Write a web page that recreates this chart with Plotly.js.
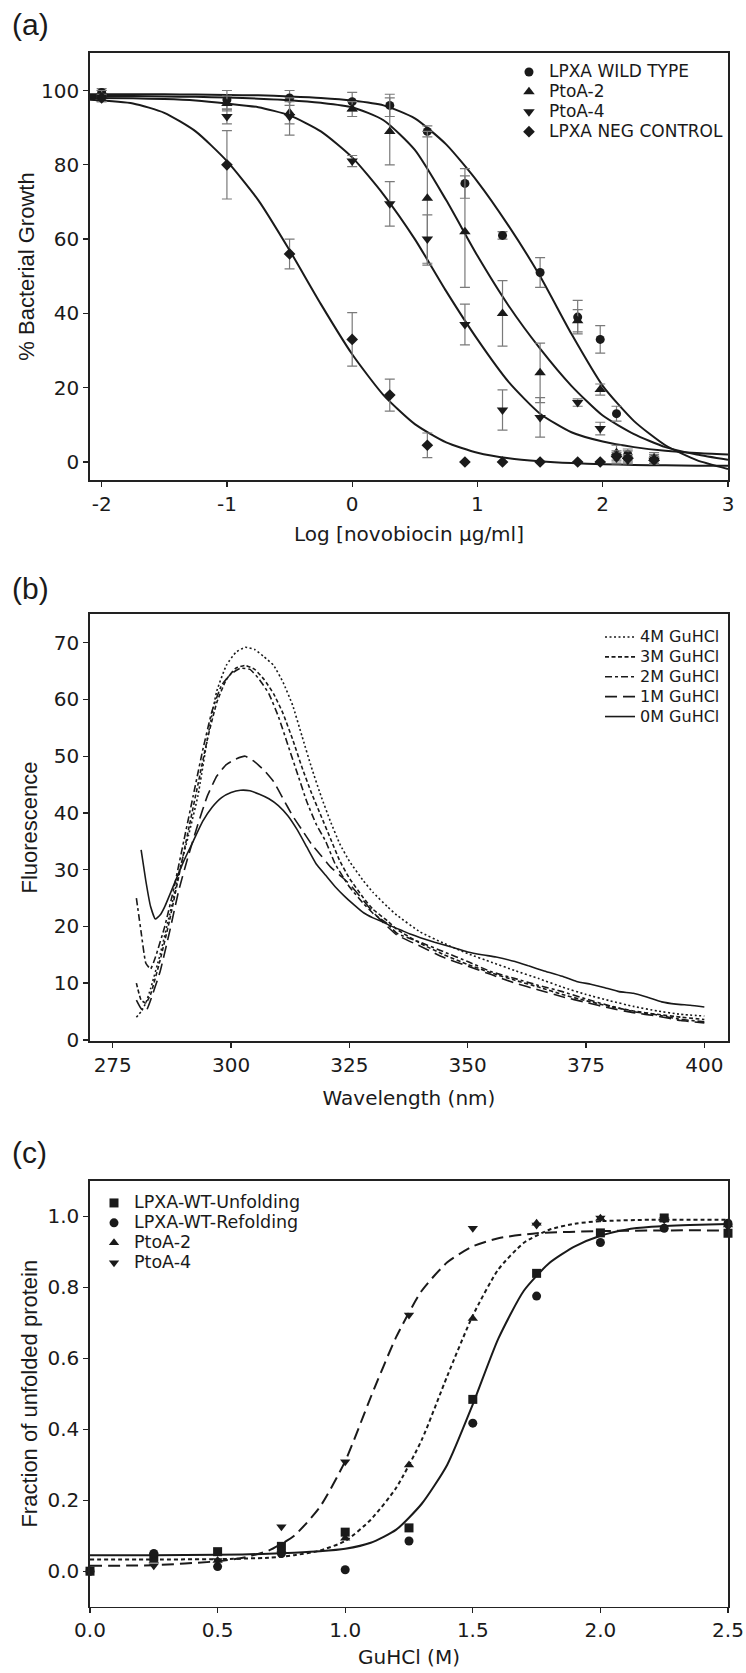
<!DOCTYPE html>
<html>
<head>
<meta charset="utf-8">
<script src="https://cdn.plot.ly/plotly-3.0.1.min.js"></script>
<style>html,body{margin:0;padding:0;background:#fff;}#chart{width:746px;height:1673px;}</style>
</head>
<body>
<div id="chart"></div>
<script>
// ---------- Panel (a): novobiocin dose response ----------
const doseLog = [-2, -1, -0.5, 0, 0.3, 0.6, 0.9, 1.2, 1.5, 1.8, 1.98, 2.11, 2.2, 2.41];
const doseTickVals = [-2, -1, 0, 1, 2, 3];
const doseTickText = ['-2', '-1', '0', '1', '2', '3'];
const wtGrowth = [99.5, 97.5, 98, 97, 96, 89, 75, 61, 51, 39, 33, 13, 2, 1];
const wtErr    = [1, 2.5, 2, 2.5, 3, 1.5, 4, 1, 4, 4.5, 3.7, 2, 1.5, 1.5];
const p2Growth = [99, 96.5, 94, 95, 89, 71, 62, 40, 24, 38, 19.5, 2.5, 1.5, 1];
const p2Err    = [1, 2, 3, 2, 9, 18, 15, 8.8, 8, 3, 1.5, 2, 1.5, 1];
const p4Growth = [98.5, 93, 93, 81, 69.5, 60, 37, 14, 12, 16, 9, 1, 0.5, 0.5];
const p4Err    = [1.5, 2, 5, 1.5, 6, 6.5, 5.5, 5.4, 5.3, 1, 1.7, 1.5, 1, 1];
const negGrowth = [98, 80, 56, 33, 18, 4.5, 0, 0, 0, 0, 0, 1.5, 1, 0.5];
const negErr    = [1, 9.2, 4, 7.2, 4.3, 3.3, 0, 0, 0, 0, 0, 1.5, 1, 1];

const fitLog = [-2.1, -1.75, -1.5, -1.25, -1, -0.75, -0.5, -0.25, 0, 0.25, 0.5, 0.75, 1.0, 1.25, 1.5, 1.75, 2.0, 2.25, 2.5, 2.75, 3.0];
const wtFit  = [99, 99, 99, 98.9, 98.8, 98.7, 98.4, 98, 97.3, 96, 92.5, 85.5, 75.5, 63.5, 50, 34.5, 20.5, 11, 4.5, 0.5, -1.9];
const p2Fit  = [98.5, 98.5, 98.4, 98.3, 98.1, 97.8, 97.4, 96.7, 95.5, 92, 84, 70.5, 55.5, 42, 30.5, 20.5, 12.5, 7.5, 4, 2, 0.6];
const p4Fit  = [98, 97.9, 97.7, 97.3, 96.5, 95.5, 93.3, 89, 82, 72, 60, 46, 33, 21.5, 13, 8, 5.5, 4, 3, 2.4, 2];
const negFit = [97.5, 96.5, 94, 89, 81, 70.5, 57, 42.5, 29, 18, 10.2, 5.3, 2.5, 1, 0.2, -0.3, -0.6, -0.8, -0.9, -1, -1];

// ---------- Panel (b): fluorescence spectra ----------
const wl4M = [280, 281, 282, 283, 285, 287, 289, 291, 293, 295, 297, 299, 301, 303, 305, 307, 309, 311, 313, 315, 317, 319, 321, 323, 325, 328, 330, 333, 335, 340, 345, 350, 355, 360, 365, 370, 375, 380, 385, 390, 395, 400];
const fl4M = [4, 5, 6.5, 9, 15, 22, 29.5, 36, 43, 53, 61.5, 66, 68.3, 69.2, 68.8, 67.5, 66, 63, 59, 53.5, 48, 43, 38.5, 34.5, 31.5, 28, 26, 23.5, 22, 19, 17, 15.2, 13.7, 12.2, 10.8, 9.3, 8, 6.9, 5.9, 5.1, 4.5, 4.2];
const wl3M = [280, 281, 282, 283, 285, 287, 289, 291, 293, 295, 297, 299, 301, 303, 305, 307, 309, 311, 313, 315, 317, 319, 321, 323, 325, 328, 330, 333, 335, 340, 345, 350, 355, 360, 365, 370, 375, 380, 385, 390, 395, 400];
const fl3M = [10, 7, 6.5, 8, 14, 21, 29, 37, 45, 53, 59.5, 63.5, 65.5, 66, 65.3, 63.5, 61, 57.5, 53, 48, 43.5, 39.5, 35.5, 31.5, 28.5, 25, 23, 21, 19.5, 17, 15, 13.3, 11.8, 10.5, 9.3, 8, 6.9, 5.9, 5.1, 4.5, 4, 3.6];
const wl2M = [280, 281, 282, 283, 284, 286, 288, 290, 292, 294, 296, 298, 300, 302, 304, 306, 308, 310, 312, 314, 316, 318, 320, 322, 325, 328, 330, 333, 335, 340, 345, 350, 355, 360, 365, 370, 375, 380, 385, 390, 395, 400];
const fl2M = [25, 19, 13.5, 12.5, 14.5, 20, 27, 35, 43, 51, 58, 62.5, 64.5, 65.5, 65.3, 63.5, 61, 57, 52, 47, 42, 38, 35, 31, 27, 24, 22.3, 20.5, 18.8, 17.2, 15.5, 13.8, 12, 10.8, 9.6, 8.5, 7.2, 6, 5, 4.4, 3.6, 3.2];
const wl1M = [280, 281, 282, 283, 285, 287, 289, 291, 293, 295, 297, 299, 301, 303, 305, 307, 309, 311, 313, 315, 317, 319, 321, 323, 325, 328, 330, 333, 335, 340, 345, 350, 355, 360, 365, 370, 375, 380, 385, 390, 395, 400];
const fl1M = [7, 5.5, 5, 7, 12, 19, 26.5, 32.5, 38, 43, 46.5, 48.5, 49.5, 50, 49, 47.5, 45.5, 42.5, 39.5, 37, 34.5, 32.5, 30.5, 29, 27.5, 24.5, 22.5, 20, 18.5, 16.5, 14.5, 13, 11.5, 10, 8.8, 7.6, 6.6, 5.6, 4.8, 4.2, 3.4, 3.0];
const wl0M = [281, 282, 283, 284, 285, 286, 288, 290, 292, 294, 296, 298, 300, 302, 304, 306, 308, 310, 312, 314, 316, 318, 320, 322, 324, 326, 328, 330, 332, 334, 336, 338, 340, 343, 346, 350, 353, 356, 360, 363, 366, 370, 373, 376, 379, 382, 385, 388, 391, 394, 397, 400];
const fl0M = [33.5, 28, 23.5, 21.3, 22, 23.5, 27.5, 31.5, 35, 38.5, 41, 42.7, 43.6, 44, 43.9, 43.3, 42.5, 41.3, 39.5, 37, 34, 31, 29, 27, 25.3, 23.8, 22.4, 21.5, 20.8, 20, 19.3, 18.6, 18, 17.2, 16.5, 15.5, 15, 14.6, 13.8, 13, 12.2, 11.2, 10.3, 9.8, 9.2, 8.5, 8.2, 7.5, 6.7, 6.3, 6.1, 5.8];

// ---------- Panel (c): GuHCl denaturation ----------
const guhcl = [0, 0.25, 0.5, 0.75, 1.0, 1.25, 1.5, 1.75, 2.0, 2.25, 2.5];
const wtUnfold = [0.0, 0.04, 0.055, 0.07, 0.11, 0.122, 0.484, 0.839, 0.953, 0.995, 0.952];
const wtRefold = [0.0, 0.05, 0.013, 0.05, 0.004, 0.085, 0.417, 0.775, 0.926, 0.966, 0.98];
const p2Frac   = [null, 0.03, 0.03, 0.06, 0.093, 0.299, 0.712, 0.98, 0.994, 0.99, 0.975];
const p4Frac   = [null, 0.015, 0.03, 0.125, 0.308, 0.722, 0.966, 0.975, 0.995, 0.99, 0.97];

const wtFitX = [0, 0.25, 0.5, 0.7, 0.8, 0.9, 1.0, 1.1, 1.2, 1.3, 1.4, 1.5, 1.6, 1.7, 1.8, 1.9, 2.0, 2.1, 2.2, 2.35, 2.5];
const wtFitY = [0.045, 0.045, 0.046, 0.049, 0.052, 0.056, 0.063, 0.08, 0.117, 0.19, 0.3, 0.47, 0.655, 0.79, 0.868, 0.915, 0.945, 0.962, 0.97, 0.975, 0.978];
const p2FitX = [0, 0.25, 0.5, 0.7, 0.8, 0.9, 1.0, 1.1, 1.2, 1.3, 1.4, 1.5, 1.6, 1.7, 1.8, 1.9, 2.0, 2.2, 2.5];
const p2FitY = [0.033, 0.033, 0.034, 0.038, 0.045, 0.058, 0.085, 0.145, 0.235, 0.37, 0.55, 0.72, 0.85, 0.925, 0.962, 0.979, 0.986, 0.99, 0.99];
const p4FitX = [0, 0.25, 0.5, 0.6, 0.7, 0.8, 0.9, 1.0, 1.1, 1.2, 1.3, 1.4, 1.5, 1.6, 1.75, 2.0, 2.25, 2.5];
const p4FitY = [0.015, 0.017, 0.028, 0.038, 0.058, 0.1, 0.18, 0.31, 0.49, 0.66, 0.79, 0.87, 0.915, 0.938, 0.952, 0.958, 0.96, 0.96];

// ---------- build ----------
const INK = '#1a1a1a';
const ERR = '#7a7a7a';
const LEG = (s, px) => '<span style="font-size:' + px + 'px">' + s + '</span>';
function pts(x, y, err, name, symbol, size, leg, xa, ya, px) {
  const t = {x: x, y: y, type: 'scatter', mode: 'markers', name: LEG(name, px), legend: leg, xaxis: xa, yaxis: ya,
    marker: {symbol: symbol, size: size, color: INK}, cliponaxis: false};
  if (err) t.error_y = {type: 'data', array: err, visible: true, color: ERR, thickness: 1.2, width: 5};
  return t;
}
function line(x, y, dash, xa, ya, name, leg, show) {
  return {x: x, y: y, type: 'scatter', mode: 'lines', name: LEG(name, 16), legend: leg, showlegend: !!show,
    xaxis: xa, yaxis: ya, line: {color: INK, width: 2, dash: dash, shape: 'spline', smoothing: 0.6}};
}

const traces = [];
[wtFit, p2Fit, p4Fit, negFit].forEach(f => traces.push(line(fitLog, f, 'solid', 'x', 'y', '', 'legend', false)));
traces.push(pts(doseLog, wtGrowth, wtErr, 'LPXA WILD TYPE', 'circle', 9, 'legend', 'x', 'y', 17));
traces.push(pts(doseLog, p2Growth, p2Err, 'PtoA-2', 'triangle-up', 10, 'legend', 'x', 'y', 17));
traces.push(pts(doseLog, p4Growth, p4Err, 'PtoA-4', 'triangle-down', 10, 'legend', 'x', 'y', 17));
traces.push(pts(doseLog, negGrowth, negErr, 'LPXA NEG CONTROL', 'diamond', 9, 'legend', 'x', 'y', 17));

const specs = [
  [wl4M, fl4M, '2px,2.5px', '4M GuHCl'],
  [wl3M, fl3M, '4px,2.5px', '3M GuHCl'],
  [wl2M, fl2M, '7px,3px,3px,3px', '2M GuHCl'],
  [wl1M, fl1M, '12px,6px', '1M GuHCl'],
  [wl0M, fl0M, 'solid', '0M GuHCl']
];
specs.forEach(s => {
  const t = line(s[0], s[1], s[2], 'x2', 'y2', s[3], 'legend2', true);
  t.line.width = 1.6; t.line.smoothing = 0.4;
  traces.push(t);
});

traces.push(line(wtFitX, wtFitY, 'solid', 'x3', 'y3', '', 'legend3', false));
traces.push(line(p2FitX, p2FitY, '4px,3px', 'x3', 'y3', '', 'legend3', false));
traces.push(line(p4FitX, p4FitY, '12px,6px', 'x3', 'y3', '', 'legend3', false));
traces.push(pts(guhcl, wtUnfold, null, 'LPXA-WT-Unfolding', 'square', 9, 'legend3', 'x3', 'y3', 17.5));
traces.push(pts(guhcl, wtRefold, null, 'LPXA-WT-Refolding', 'circle', 9, 'legend3', 'x3', 'y3', 17.5));
traces.push(pts(guhcl, p2Frac, null, 'PtoA-2', 'triangle-up', 9, 'legend3', 'x3', 'y3', 17.5));
traces.push(pts(guhcl, p4Frac, null, 'PtoA-4', 'triangle-down', 9, 'legend3', 'x3', 'y3', 17.5));

const H = 1673;
const py = px => 1 - px / H;
const YT = {family: 'Liberation Sans, Arial, sans-serif', size: 22, color: INK};
const XT = {family: 'DejaVu Sans, sans-serif', size: 20, color: INK};
function axis(extra) {
  return Object.assign({
    showline: true, linecolor: '#222', linewidth: 1.7, mirror: true,
    ticks: 'outside', ticklen: 5, tickwidth: 1.3, tickcolor: '#222',
    showgrid: false, zeroline: false,
    tickfont: {family: 'DejaVu Sans, sans-serif', size: 20, color: INK}
  }, extra);
}
const legendBase = {bgcolor: 'rgba(0,0,0,0)', borderwidth: 0,
  font: {family: 'DejaVu Sans, sans-serif', size: 13, color: INK}, xanchor: 'left', yanchor: 'top', tracegroupgap: 0};
const PANEL = {family: 'Liberation Sans, Arial, sans-serif', size: 30, color: INK};

const layout = {
  width: 746, height: H,
  margin: {l: 90, r: 18, t: 0, b: 0},
  paper_bgcolor: '#fff', plot_bgcolor: '#fff',
  font: {family: 'DejaVu Sans, sans-serif', color: INK},
  showlegend: true,
  xaxis: axis({domain: [0, 1], anchor: 'y', range: [-2.093, 3], tickvals: doseTickVals, ticktext: doseTickText,
    title: {text: 'Log [novobiocin \u03bcg/ml]', standoff: 12, font: XT}}),
  yaxis: axis({domain: [py(480), py(53)], anchor: 'x', range: [-4.85, 110.1], tickvals: [0, 20, 40, 60, 80, 100],
    title: {text: '% Bacterial Growth', standoff: 0, font: YT}}),
  xaxis2: axis({domain: [0, 1], anchor: 'y2', range: [270.2, 405], tickvals: [275, 300, 325, 350, 375, 400],
    title: {text: 'Wavelength (nm)', standoff: 15, font: XT}}),
  yaxis2: axis({domain: [py(1041), py(614)], anchor: 'x2', range: [-0.2, 75.06], tickvals: [0, 10, 20, 30, 40, 50, 60, 70],
    title: {text: 'Fluorescence', standoff: 10, font: YT}}),
  xaxis3: axis({domain: [0, 1], anchor: 'y3', range: [0, 2.5], tickvals: [0, 0.5, 1, 1.5, 2, 2.5], tickformat: '.1f',
    title: {text: 'GuHCl (M)', standoff: 8, font: XT}}),
  yaxis3: axis({domain: [py(1606.7), py(1180.7)], anchor: 'x3', range: [-0.1, 1.1], tickvals: [0, 0.2, 0.4, 0.6, 0.8, 1.0], tickformat: '.1f',
    title: {text: 'Fraction of unfolded protein', standoff: 4, font: YT}}),
  legend: Object.assign({}, legendBase, {x: 0.6567, y: py(57)}),
  legend2: Object.assign({}, legendBase, {x: 0.7994, y: py(622)}),
  legend3: Object.assign({}, legendBase, {x: 0.00627, y: py(1188)}),
  annotations: [
    {text: '(a)', xref: 'paper', yref: 'paper', x: -0.1254, y: py(24), xanchor: 'left', yanchor: 'middle', showarrow: false, font: PANEL},
    {text: '(b)', xref: 'paper', yref: 'paper', x: -0.1254, y: py(588), xanchor: 'left', yanchor: 'middle', showarrow: false, font: PANEL},
    {text: '(c)', xref: 'paper', yref: 'paper', x: -0.1254, y: py(1152), xanchor: 'left', yanchor: 'middle', showarrow: false, font: PANEL}
  ]
};

Plotly.newPlot('chart', traces, layout, {displayModeBar: false, staticPlot: true});
</script>
</body>
</html>
